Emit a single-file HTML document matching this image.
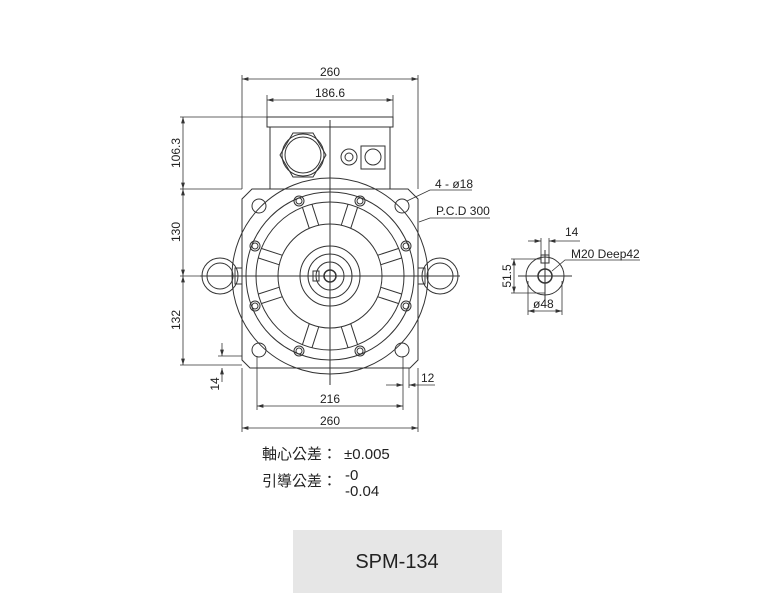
<!DOCTYPE html>
<html><head><meta charset="utf-8"><style>
body{margin:0;background:#fff;width:768px;height:611px;overflow:hidden;position:relative;font-family:"Liberation Sans","Noto Sans CJK TC",sans-serif}
svg{position:absolute;left:0;top:0}
.t{font-family:"Liberation Sans","Noto Sans CJK TC",sans-serif;fill:#222}
</style></head><body>
<svg width="768" height="611" viewBox="0 0 768 611">
<defs>
<marker id="a" viewBox="0 0 10 6" refX="10" refY="3" markerWidth="8" markerHeight="5" orient="auto-start-reverse"><path d="M0,0L10,3L0,6z" fill="#333"/></marker>
</defs>
<g fill="none" stroke="#333" stroke-width="1">
<path d="M252,189 L408,189 L418,199 L418,360 L410,368 L250,368 L242,360 L242,199 Z"/>
<rect x="267" y="117" width="126" height="10"/>
<rect x="270" y="127" width="120" height="62"/>
<path d="M293,133L313,133L326,155L313,177L293,177L280,155Z"/>
<circle cx="303" cy="155" r="21"/><circle cx="303" cy="155" r="18"/>
<circle cx="349" cy="157" r="8"/><circle cx="349" cy="157" r="4"/>
<rect x="361" y="146" width="24" height="23"/><circle cx="373" cy="157" r="8"/>
<circle cx="330" cy="276" r="98"/>
<circle cx="330" cy="276" r="84"/>
<circle cx="330" cy="276" r="74"/>
<circle cx="330" cy="276" r="52"/>
<circle cx="330" cy="276" r="30"/>
<circle cx="330" cy="276" r="22"/>
<circle cx="330" cy="276" r="14"/>
<circle cx="330" cy="276" r="6" stroke-width="1.5"/>
<rect x="313" y="271" width="6" height="10"/>
<g transform="translate(330,276)">
<g transform="rotate(-108)"><path d="M52,-5L74,-5M52,5L74,5"/></g>
<g transform="rotate(-72)"><path d="M52,-5L74,-5M52,5L74,5"/></g>
<g transform="rotate(-162)"><path d="M52,-5L74,-5M52,5L74,5"/></g>
<g transform="rotate(-18)"><path d="M52,-5L74,-5M52,5L74,5"/></g>
<g transform="rotate(18)"><path d="M52,-5L74,-5M52,5L74,5"/></g>
<g transform="rotate(162)"><path d="M52,-5L74,-5M52,5L74,5"/></g>
<g transform="rotate(72)"><path d="M52,-5L74,-5M52,5L74,5"/></g>
<g transform="rotate(108)"><path d="M52,-5L74,-5M52,5L74,5"/></g>
</g>
<g>
<circle cx="299" cy="201" r="5"/><circle cx="299" cy="201" r="3"/>
<circle cx="360" cy="201" r="5"/><circle cx="360" cy="201" r="3"/>
<circle cx="255" cy="246" r="5"/><circle cx="255" cy="246" r="3"/>
<circle cx="406" cy="246" r="5"/><circle cx="406" cy="246" r="3"/>
<circle cx="255" cy="306" r="5"/><circle cx="255" cy="306" r="3"/>
<circle cx="406" cy="306" r="5"/><circle cx="406" cy="306" r="3"/>
<circle cx="299" cy="351" r="5"/><circle cx="299" cy="351" r="3"/>
<circle cx="360" cy="351" r="5"/><circle cx="360" cy="351" r="3"/>
</g>
<circle cx="259" cy="206" r="7"/><circle cx="402" cy="206" r="7"/>
<circle cx="259" cy="350" r="7"/><circle cx="402" cy="350" r="7"/>
<circle cx="220" cy="276" r="18"/><circle cx="220" cy="276" r="13"/>
<rect x="235" y="268" width="7" height="16"/>
<circle cx="440" cy="276" r="18"/><circle cx="440" cy="276" r="13"/>
<rect x="418" y="268" width="7" height="16"/>
<path d="M330,120L330,385M200,276L460,276"/>
<g stroke-width="0.8">
<path d="M242,75L242,189M418,75L418,189M267,95L267,117M393,95L393,117"/>
<path d="M242,79L418,79" marker-start="url(#a)" marker-end="url(#a)"/>
<path d="M267,100L393,100" marker-start="url(#a)" marker-end="url(#a)"/>
<path d="M180,117L267,117M180,189L242,189M180,276L200,276M180,365L242,365"/>
<path d="M183,117L183,189" marker-start="url(#a)" marker-end="url(#a)"/>
<path d="M183,189L183,276" marker-start="url(#a)" marker-end="url(#a)"/>
<path d="M183,276L183,365" marker-start="url(#a)" marker-end="url(#a)"/>
<path d="M218,356L242,356"/>
<path d="M222,343L222,356" marker-end="url(#a)"/><path d="M222,382L222,368" marker-end="url(#a)"/>
<path d="M257,356L257,410M403,356L403,410M242,368L242,432M418,368L418,432M409,368L409,388"/>
<path d="M257,406L403,406" marker-start="url(#a)" marker-end="url(#a)"/>
<path d="M242,428L418,428" marker-start="url(#a)" marker-end="url(#a)"/>
<path d="M386,385L403,385" marker-end="url(#a)"/><path d="M435,385L409,385" marker-end="url(#a)"/>
<path d="M407,201L430,190L472,190"/>
<path d="M419,222L430,218L490,218"/>
</g>
<circle cx="545" cy="276" r="19"/>
<rect x="541" y="255" width="8" height="8"/>
<circle cx="545" cy="276" r="7" stroke-width="1.5"/>
<path d="M518,276L572,276M545,250L545,302"/>
<g stroke-width="0.8">
<path d="M541,238L541,255M549,238L549,255"/>
<path d="M528,241L541,241" marker-end="url(#a)"/><path d="M580,241L549,241" marker-end="url(#a)"/>
<path d="M511,259L541,259M511,293L545,293"/>
<path d="M514,259L514,293" marker-start="url(#a)" marker-end="url(#a)"/>
<path d="M528,281L528,315M562,281L562,315"/>
<path d="M528,311L562,311" marker-start="url(#a)" marker-end="url(#a)"/>
<path d="M552,271L565,260L640,260"/>
</g>
</g>
<g class="t" font-size="12">
<text x="330" y="76" text-anchor="middle">260</text>
<text x="330" y="97" text-anchor="middle">186.6</text>
<text x="330" y="403" text-anchor="middle">216</text>
<text x="330" y="425" text-anchor="middle">260</text>
<text x="421" y="382">12</text>
<text x="435" y="188">4 - ø18</text>
<text x="436" y="215">P.C.D 300</text>
<text x="565" y="236">14</text>
<text x="571" y="258">M20 Deep42</text>
<text x="533" y="308">ø48</text>
<text transform="translate(180,153) rotate(-90)" text-anchor="middle">106.3</text>
<text transform="translate(180,232) rotate(-90)" text-anchor="middle">130</text>
<text transform="translate(180,320) rotate(-90)" text-anchor="middle">132</text>
<text transform="translate(219,384) rotate(-90)" text-anchor="middle">14</text>
<text transform="translate(511,276) rotate(-90)" text-anchor="middle">51.5</text>
</g>
<g class="t" font-size="15">
<text x="262" y="459">軸心公差：</text>
<text x="344" y="459">±0.005</text>
<text x="262" y="486">引導公差：</text>
<text x="345" y="480">-0</text>
<text x="345" y="496">-0.04</text>
</g>
<rect x="293" y="530" width="209" height="63" fill="#e6e6e6"/>
<text x="397" y="568" class="t" font-size="20" fill="#333" text-anchor="middle">SPM-134</text>
</svg>
</body></html>
